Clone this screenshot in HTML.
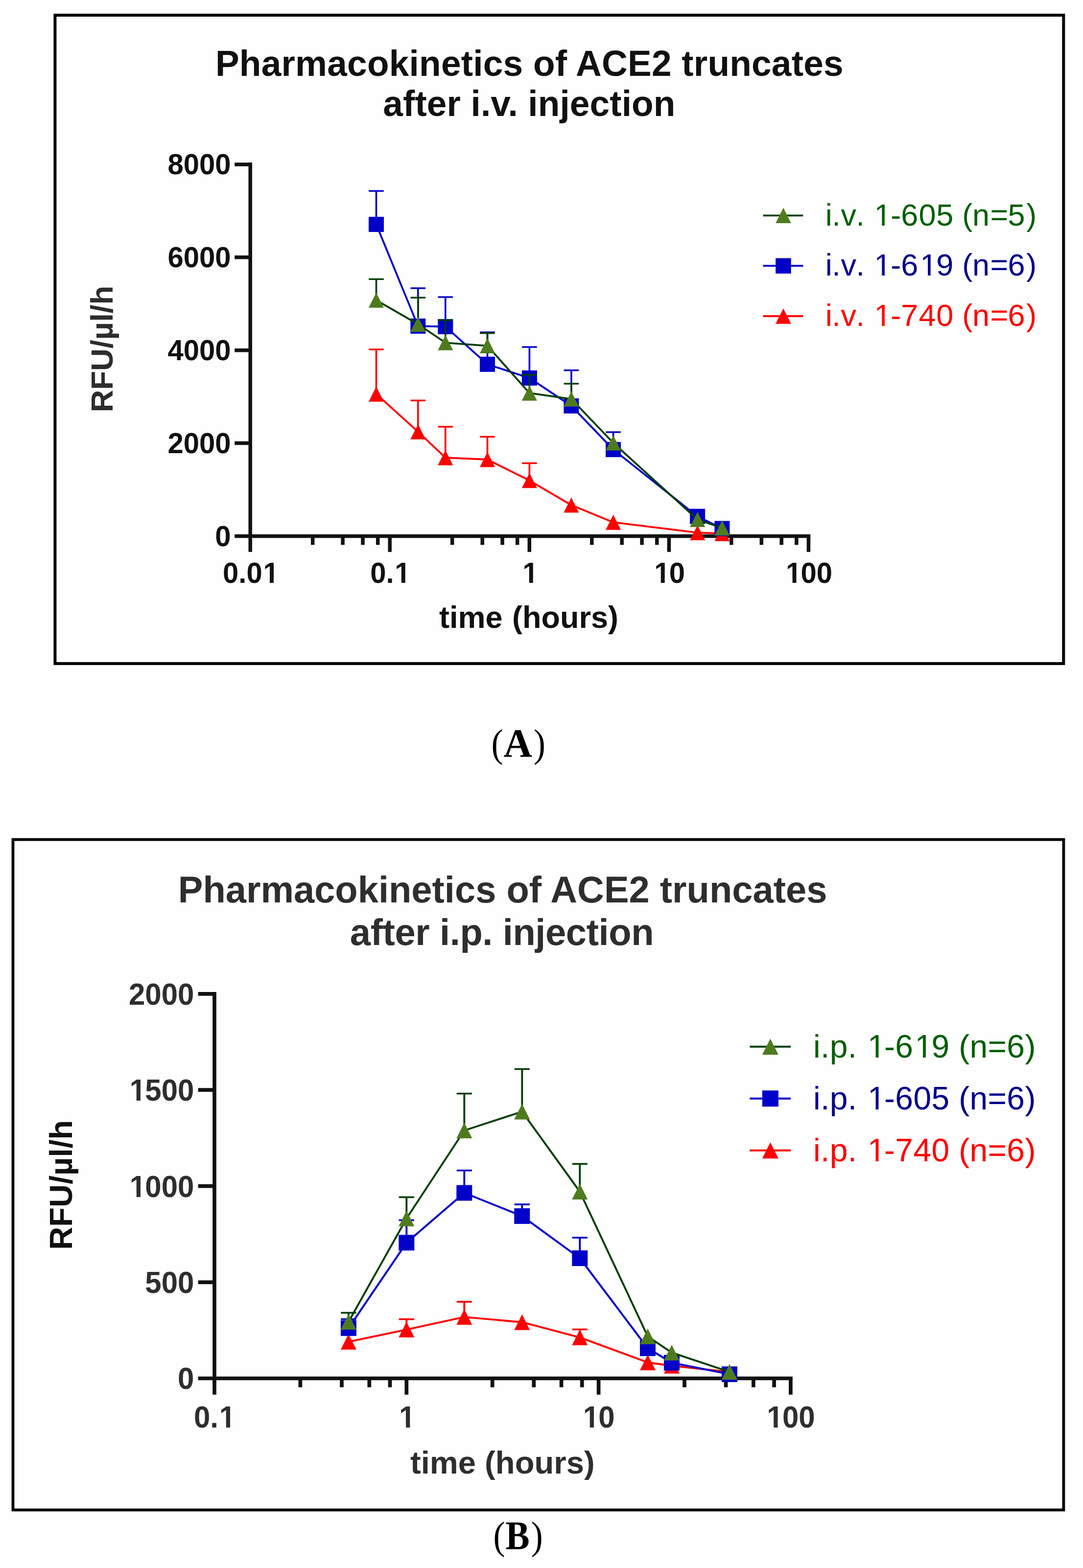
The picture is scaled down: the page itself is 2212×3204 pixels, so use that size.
<!DOCTYPE html>
<html lang="en">
<head>
<meta charset="utf-8">
<title>Pharmacokinetics of ACE2 truncates</title>
<style>
html,body{margin:0;padding:0;background:#fff;}
body{width:2212px;height:3204px;overflow:hidden;}
svg{display:block;}
text{font-family:"Liberation Sans",sans-serif;}
.b{font-weight:bold;}
.ser text{font-family:"Liberation Serif",serif;}
</style>
</head>
<body>
<svg width="2212" height="3204" viewBox="0 0 2212 3204">
<rect x="0" y="0" width="2212" height="3204" fill="#fefefe"/>

<g id="chartA">
<rect x="112.4" y="31" width="2059.9" height="1324.9" fill="none" stroke="#000" stroke-width="6"/>
<text id="t1" class="b" transform="translate(1081.4 154.8) scale(1 1.02)" font-size="73" letter-spacing="0.235" text-anchor="middle" fill="#111111">Pharmacokinetics of ACE2 truncates</text>
<text id="t2" class="b" transform="translate(1080.9 237) scale(1 1.02)" font-size="73" letter-spacing="0.12" text-anchor="middle" fill="#111111">after i.v. injection</text>
<line x1="511.2" y1="332.1" x2="511.2" y2="1127.8" stroke="#111111" stroke-width="7.5"/>
<line x1="479.2" y1="1095.4" x2="1655.2" y2="1095.4" stroke="#111111" stroke-width="7.5"/>
<line x1="479.2" y1="335.9" x2="511.2" y2="335.9" stroke="#111111" stroke-width="7.5"/>
<line x1="479.2" y1="525.8" x2="511.2" y2="525.8" stroke="#111111" stroke-width="7.5"/>
<line x1="479.2" y1="715.7" x2="511.2" y2="715.7" stroke="#111111" stroke-width="7.5"/>
<line x1="479.2" y1="905.5" x2="511.2" y2="905.5" stroke="#111111" stroke-width="7.5"/>
<line x1="638.7" y1="1095.4" x2="638.7" y2="1113.4" stroke="#111111" stroke-width="7.5"/>
<line x1="700.1" y1="1095.4" x2="700.1" y2="1113.4" stroke="#111111" stroke-width="7.5"/>
<line x1="741.0" y1="1095.4" x2="741.0" y2="1113.4" stroke="#111111" stroke-width="7.5"/>
<line x1="771.7" y1="1095.4" x2="771.7" y2="1113.4" stroke="#111111" stroke-width="7.5"/>
<line x1="796.2" y1="1095.4" x2="796.2" y2="1127.8" stroke="#111111" stroke-width="7.5"/>
<line x1="923.7" y1="1095.4" x2="923.7" y2="1113.4" stroke="#111111" stroke-width="7.5"/>
<line x1="985.2" y1="1095.4" x2="985.2" y2="1113.4" stroke="#111111" stroke-width="7.5"/>
<line x1="1026.1" y1="1095.4" x2="1026.1" y2="1113.4" stroke="#111111" stroke-width="7.5"/>
<line x1="1056.7" y1="1095.4" x2="1056.7" y2="1113.4" stroke="#111111" stroke-width="7.5"/>
<line x1="1081.3" y1="1095.4" x2="1081.3" y2="1127.8" stroke="#111111" stroke-width="7.5"/>
<line x1="1208.8" y1="1095.4" x2="1208.8" y2="1113.4" stroke="#111111" stroke-width="7.5"/>
<line x1="1270.2" y1="1095.4" x2="1270.2" y2="1113.4" stroke="#111111" stroke-width="7.5"/>
<line x1="1311.1" y1="1095.4" x2="1311.1" y2="1113.4" stroke="#111111" stroke-width="7.5"/>
<line x1="1341.8" y1="1095.4" x2="1341.8" y2="1113.4" stroke="#111111" stroke-width="7.5"/>
<line x1="1366.4" y1="1095.4" x2="1366.4" y2="1127.8" stroke="#111111" stroke-width="7.5"/>
<line x1="1493.8" y1="1095.4" x2="1493.8" y2="1113.4" stroke="#111111" stroke-width="7.5"/>
<line x1="1555.3" y1="1095.4" x2="1555.3" y2="1113.4" stroke="#111111" stroke-width="7.5"/>
<line x1="1596.2" y1="1095.4" x2="1596.2" y2="1113.4" stroke="#111111" stroke-width="7.5"/>
<line x1="1626.8" y1="1095.4" x2="1626.8" y2="1113.4" stroke="#111111" stroke-width="7.5"/>
<line x1="1651.4" y1="1095.4" x2="1651.4" y2="1127.8" stroke="#111111" stroke-width="7.5"/>
<text id="t3" class="b" transform="translate(0 356.2) scale(1 1.022)" x="471.5" y="0" font-size="58" text-anchor="end" fill="#111111">8000</text>
<text id="t4" class="b" transform="translate(0 546.1) scale(1 1.022)" x="471.5" y="0" font-size="58" text-anchor="end" fill="#111111">6000</text>
<text id="t5" class="b" transform="translate(0 736.0) scale(1 1.022)" x="471.5" y="0" font-size="58" text-anchor="end" fill="#111111">4000</text>
<text id="t6" class="b" transform="translate(0 925.8) scale(1 1.022)" x="471.5" y="0" font-size="58" text-anchor="end" fill="#111111">2000</text>
<text id="t7" class="b" transform="translate(0 1115.7) scale(1 1.022)" x="471.5" y="0" font-size="58" text-anchor="end" fill="#111111">0</text>
<text id="t8" class="b" transform="translate(0 1190.6) scale(1 1.022)" x="455.07 487.31 503.43 537.40" y="0" font-size="58" fill="#111111">0.01</text>
<text id="t9" class="b" transform="translate(0 1190.6) scale(1 1.022)" x="756.20 788.43 806.29" y="0" font-size="58" fill="#111111">0.1</text>
<text id="t10" class="b" transform="translate(0 1190.6) scale(1 1.022)" x="1067.21" y="0" font-size="58" fill="#111111">1</text>
<text id="t11" class="b" transform="translate(0 1190.6) scale(1 1.022)" x="1336.19 1366.68" y="0" font-size="58" fill="#111111">10</text>
<text id="t12" class="b" transform="translate(0 1190.6) scale(1 1.022)" x="1605.06 1635.56 1667.81" y="0" font-size="58" fill="#111111">100</text>
<text id="t13" class="b" x="1080" y="1282.6" font-size="63" word-spacing="2" text-anchor="middle" fill="#111111">time (hours)</text>
<text id="t14" class="b" transform="translate(230.2 713.2) rotate(-90)" font-size="63.5" text-anchor="middle" fill="#2d2d2d">RFU/µl/h</text>
<path d="M768.5 805.2V714.0" stroke="#ff0000" stroke-width="3.6" fill="none"/>
<path d="M753.2 714.0H783.8" stroke="#ff0000" stroke-width="3.4" fill="none"/>
<path d="M853.8 882.2V818.3" stroke="#ff0000" stroke-width="3.6" fill="none"/>
<path d="M838.5 818.3H869.1" stroke="#ff0000" stroke-width="3.4" fill="none"/>
<path d="M909.8 935.2V872.0" stroke="#ff0000" stroke-width="3.6" fill="none"/>
<path d="M894.5 872.0H925.1" stroke="#ff0000" stroke-width="3.4" fill="none"/>
<path d="M995.5 939.0V892.5" stroke="#ff0000" stroke-width="3.6" fill="none"/>
<path d="M980.2 892.5H1010.8" stroke="#ff0000" stroke-width="3.4" fill="none"/>
<path d="M1081.4 981.8V946.5" stroke="#ff0000" stroke-width="3.6" fill="none"/>
<path d="M1066.1 946.5H1096.7" stroke="#ff0000" stroke-width="3.4" fill="none"/>
<polyline points="768.5,805.2 853.8,882.2 909.8,935.2 995.5,939.0 1081.4,981.8 1166.9,1032.1 1252.6,1067.2 1424.6,1088.4 1474.9,1090.2" stroke="#ff0000" stroke-width="3.8" fill="none" stroke-linejoin="round"/>
<polygon points="753.0,820.7 784.0,820.7 768.5,789.7" fill="#ff0000"/>
<polygon points="838.3,897.7 869.3,897.7 853.8,866.7" fill="#ff0000"/>
<polygon points="894.3,950.7 925.3,950.7 909.8,919.7" fill="#ff0000"/>
<polygon points="980.0,954.5 1011.0,954.5 995.5,923.5" fill="#ff0000"/>
<polygon points="1065.9,997.3 1096.9,997.3 1081.4,966.3" fill="#ff0000"/>
<polygon points="1151.4,1047.6 1182.4,1047.6 1166.9,1016.6" fill="#ff0000"/>
<polygon points="1237.1,1082.7 1268.1,1082.7 1252.6,1051.7" fill="#ff0000"/>
<polygon points="1409.1,1103.9 1440.1,1103.9 1424.6,1072.9" fill="#ff0000"/>
<polygon points="1459.4,1105.7 1490.4,1105.7 1474.9,1074.7" fill="#ff0000"/>
<path d="M768.5 458.5V390.2" stroke="#0000c8" stroke-width="3.6" fill="none"/>
<path d="M753.2 390.2H783.8" stroke="#0000c8" stroke-width="3.4" fill="none"/>
<path d="M853.8 666.4V588.9" stroke="#0000c8" stroke-width="3.6" fill="none"/>
<path d="M838.5 588.9H869.1" stroke="#0000c8" stroke-width="3.4" fill="none"/>
<path d="M909.8 667.4V607.0" stroke="#0000c8" stroke-width="3.6" fill="none"/>
<path d="M894.5 607.0H925.1" stroke="#0000c8" stroke-width="3.4" fill="none"/>
<path d="M995.5 744.4V679.0" stroke="#0000c8" stroke-width="3.6" fill="none"/>
<path d="M980.2 679.0H1010.8" stroke="#0000c8" stroke-width="3.4" fill="none"/>
<path d="M1081.4 772.4V709.1" stroke="#0000c8" stroke-width="3.6" fill="none"/>
<path d="M1066.1 709.1H1096.7" stroke="#0000c8" stroke-width="3.4" fill="none"/>
<path d="M1166.9 829.4V756.6" stroke="#0000c8" stroke-width="3.6" fill="none"/>
<path d="M1151.6 756.6H1182.2" stroke="#0000c8" stroke-width="3.4" fill="none"/>
<path d="M1252.6 918.6V883.0" stroke="#0000c8" stroke-width="3.6" fill="none"/>
<path d="M1237.3 883.0H1267.9" stroke="#0000c8" stroke-width="3.4" fill="none"/>
<polyline points="768.5,458.5 853.8,666.4 909.8,667.4 995.5,744.4 1081.4,772.4 1166.9,829.4 1252.6,918.6 1424.6,1055.2 1474.9,1080.0" stroke="#0000c8" stroke-width="3.8" fill="none" stroke-linejoin="round"/>
<rect x="753.0" y="443.0" width="31.0" height="31.0" fill="#0000c8"/>
<rect x="838.3" y="650.9" width="31.0" height="31.0" fill="#0000c8"/>
<rect x="894.3" y="651.9" width="31.0" height="31.0" fill="#0000c8"/>
<rect x="980.0" y="728.9" width="31.0" height="31.0" fill="#0000c8"/>
<rect x="1065.9" y="756.9" width="31.0" height="31.0" fill="#0000c8"/>
<rect x="1151.4" y="813.9" width="31.0" height="31.0" fill="#0000c8"/>
<rect x="1237.1" y="903.1" width="31.0" height="31.0" fill="#0000c8"/>
<rect x="1409.1" y="1039.7" width="31.0" height="31.0" fill="#0000c8"/>
<rect x="1459.4" y="1064.5" width="31.0" height="31.0" fill="#0000c8"/>
<path d="M768.5 613.3V570.4" stroke="#003f00" stroke-width="3.6" fill="none"/>
<path d="M753.2 570.4H783.8" stroke="#003f00" stroke-width="3.4" fill="none"/>
<path d="M853.8 662.5V608.2" stroke="#003f00" stroke-width="3.6" fill="none"/>
<path d="M838.5 608.2H869.1" stroke="#003f00" stroke-width="3.4" fill="none"/>
<path d="M909.8 700.3V654.1" stroke="#003f00" stroke-width="3.6" fill="none"/>
<path d="M894.5 654.1H925.1" stroke="#003f00" stroke-width="3.4" fill="none"/>
<path d="M995.5 706.6V680.7" stroke="#003f00" stroke-width="3.6" fill="none"/>
<path d="M980.2 680.7H1010.8" stroke="#003f00" stroke-width="3.4" fill="none"/>
<path d="M1081.4 803.2V765.9" stroke="#003f00" stroke-width="3.6" fill="none"/>
<path d="M1066.1 765.9H1096.7" stroke="#003f00" stroke-width="3.4" fill="none"/>
<path d="M1166.9 815.3V784.0" stroke="#003f00" stroke-width="3.6" fill="none"/>
<path d="M1151.6 784.0H1182.2" stroke="#003f00" stroke-width="3.4" fill="none"/>
<polyline points="768.5,613.3 853.8,662.5 909.8,700.3 995.5,706.6 1081.4,803.2 1166.9,815.3 1252.6,905.0 1424.6,1061.6 1474.9,1078.8" stroke="#003f00" stroke-width="3.8" fill="none" stroke-linejoin="round"/>
<polygon points="753.0,628.8 784.0,628.8 768.5,597.8" fill="#4f7b1f"/>
<polygon points="838.3,678.0 869.3,678.0 853.8,647.0" fill="#4f7b1f"/>
<polygon points="894.3,715.8 925.3,715.8 909.8,684.8" fill="#4f7b1f"/>
<polygon points="980.0,722.1 1011.0,722.1 995.5,691.1" fill="#4f7b1f"/>
<polygon points="1065.9,818.7 1096.9,818.7 1081.4,787.7" fill="#4f7b1f"/>
<polygon points="1151.4,830.8 1182.4,830.8 1166.9,799.8" fill="#4f7b1f"/>
<polygon points="1237.1,920.5 1268.1,920.5 1252.6,889.5" fill="#4f7b1f"/>
<polygon points="1409.1,1077.1 1440.1,1077.1 1424.6,1046.1" fill="#4f7b1f"/>
<polygon points="1459.4,1094.3 1490.4,1094.3 1474.9,1063.3" fill="#4f7b1f"/>
<line x1="1558.6" y1="440.3" x2="1640.2" y2="440.3" stroke="#003f00" stroke-width="3.8"/>
<polygon points="1584.2,456.1 1615.8,456.1 1600.0,424.6" fill="#4f7b1f"/>
<text id="t15" x="1685.80 1699.19 1717.39 1748.42 1764.12 1785.46 1819.16 1840.13 1876.48 1912.22 1946.95 1965.16 1986.04 2022.58 2058.56 2096.30" y="461.0" font-size="63" fill="#005f00">i.v. 1-605 (n=5)</text>
<line x1="1558.6" y1="543.2" x2="1640.2" y2="543.2" stroke="#0000c8" stroke-width="3.8"/>
<rect x="1584.2" y="527.5" width="31.5" height="31.5" fill="#0000c8"/>
<text id="t16" x="1685.80 1699.19 1717.39 1748.42 1764.12 1785.46 1819.16 1840.13 1879.32 1912.22 1946.95 1965.16 1986.04 2022.58 2058.56 2096.30" y="563.4" font-size="63" fill="#00008b">i.v. 1-619 (n=6)</text>
<line x1="1558.6" y1="646" x2="1640.2" y2="646" stroke="#ff0000" stroke-width="3.8"/>
<polygon points="1584.2,661.8 1615.8,661.8 1600.0,630.2" fill="#ff0000"/>
<text id="t17" x="1685.80 1699.19 1717.39 1748.42 1764.12 1785.46 1819.16 1840.13 1876.48 1912.22 1946.95 1965.16 1986.04 2022.58 2058.56 2096.30" y="666.0" font-size="63" fill="#ff0000">i.v. 1-740 (n=6)</text>
</g>
<g class="ser" font-size="81" fill="#000"><text id="t18" transform="translate(1003.5 1546.1) scale(0.89 1)">(</text><text id="t19" transform="translate(1028.4 1546.1) scale(1 1.026)" font-weight="bold">A</text><text id="t20" transform="translate(1090.0 1546.1) scale(0.89 1)">)</text></g>
<g id="chartB">
<rect x="26.5" y="1715.5" width="2145.9" height="1369.9" fill="none" stroke="#000" stroke-width="5.8"/>
<text id="t21" class="b" transform="translate(1026.6 1843.9) scale(1 1.003)" font-size="75.9" text-anchor="middle" fill="#2e2e2e">Pharmacokinetics of ACE2 truncates</text>
<text id="t22" class="b" transform="translate(1025 1931) scale(1 1.003)" font-size="75.9" letter-spacing="-0.4" text-anchor="middle" fill="#2e2e2e">after i.p. injection</text>
<line x1="438.0" y1="2027.0" x2="438.0" y2="2849.8" stroke="#111111" stroke-width="7.7"/>
<line x1="404.6" y1="2816.5" x2="1618.8" y2="2816.5" stroke="#111111" stroke-width="7.7"/>
<line x1="404.6" y1="2030.8" x2="438.0" y2="2030.8" stroke="#111111" stroke-width="7.7"/>
<line x1="404.6" y1="2227.2" x2="438.0" y2="2227.2" stroke="#111111" stroke-width="7.7"/>
<line x1="404.6" y1="2423.7" x2="438.0" y2="2423.7" stroke="#111111" stroke-width="7.7"/>
<line x1="404.6" y1="2620.1" x2="438.0" y2="2620.1" stroke="#111111" stroke-width="7.7"/>
<line x1="613.4" y1="2816.5" x2="613.4" y2="2834.7" stroke="#111111" stroke-width="7.7"/>
<line x1="698.0" y1="2816.5" x2="698.0" y2="2834.7" stroke="#111111" stroke-width="7.7"/>
<line x1="754.3" y1="2816.5" x2="754.3" y2="2834.7" stroke="#111111" stroke-width="7.7"/>
<line x1="796.5" y1="2816.5" x2="796.5" y2="2834.7" stroke="#111111" stroke-width="7.7"/>
<line x1="830.3" y1="2816.5" x2="830.3" y2="2849.8" stroke="#111111" stroke-width="7.7"/>
<line x1="1005.7" y1="2816.5" x2="1005.7" y2="2834.7" stroke="#111111" stroke-width="7.7"/>
<line x1="1090.3" y1="2816.5" x2="1090.3" y2="2834.7" stroke="#111111" stroke-width="7.7"/>
<line x1="1146.6" y1="2816.5" x2="1146.6" y2="2834.7" stroke="#111111" stroke-width="7.7"/>
<line x1="1188.8" y1="2816.5" x2="1188.8" y2="2834.7" stroke="#111111" stroke-width="7.7"/>
<line x1="1222.6" y1="2816.5" x2="1222.6" y2="2849.8" stroke="#111111" stroke-width="7.7"/>
<line x1="1398.0" y1="2816.5" x2="1398.0" y2="2834.7" stroke="#111111" stroke-width="7.7"/>
<line x1="1482.6" y1="2816.5" x2="1482.6" y2="2834.7" stroke="#111111" stroke-width="7.7"/>
<line x1="1538.9" y1="2816.5" x2="1538.9" y2="2834.7" stroke="#111111" stroke-width="7.7"/>
<line x1="1581.1" y1="2816.5" x2="1581.1" y2="2834.7" stroke="#111111" stroke-width="7.7"/>
<line x1="1614.9" y1="2816.5" x2="1614.9" y2="2849.8" stroke="#111111" stroke-width="7.7"/>
<text id="t23" class="b" transform="translate(0 2052.7) scale(1 1.035)" x="396.4" y="0" font-size="60" text-anchor="end" fill="#2e2e2e">2000</text>
<text id="t24" class="b" transform="translate(0 2249.1) scale(1 1.035)" x="264.74 296.29 329.66 363.02" y="0" font-size="60" fill="#2e2e2e">1500</text>
<text id="t25" class="b" transform="translate(0 2445.6) scale(1 1.035)" x="264.74 296.29 329.66 363.02" y="0" font-size="60" fill="#2e2e2e">1000</text>
<text id="t26" class="b" transform="translate(0 2642.0) scale(1 1.035)" x="396.4" y="0" font-size="60" text-anchor="end" fill="#2e2e2e">500</text>
<text id="t27" class="b" transform="translate(0 2838.4) scale(1 1.035)" x="396.4" y="0" font-size="60" text-anchor="end" fill="#2e2e2e">0</text>
<text id="t28" class="b" transform="translate(0 2916.5) scale(1 1.035)" x="396.00 429.35 447.82" y="0" font-size="60" fill="#2e2e2e">0.1</text>
<text id="t29" class="b" transform="translate(0 2916.5) scale(1 1.035)" x="815.12" y="0" font-size="60" fill="#2e2e2e">1</text>
<text id="t30" class="b" transform="translate(0 2916.5) scale(1 1.035)" x="1190.74 1222.28" y="0" font-size="60" fill="#2e2e2e">10</text>
<text id="t31" class="b" transform="translate(0 2916.5) scale(1 1.035)" x="1566.35 1597.90 1631.27" y="0" font-size="60" fill="#2e2e2e">100</text>
<text id="t32" class="b" x="1026.3" y="3011.2" font-size="65.2" text-anchor="middle" fill="#2e2e2e">time (hours)</text>
<text id="t33" class="b" transform="translate(146.8 2421.2) rotate(-90)" font-size="65" text-anchor="middle" fill="#111111">RFU/µl/h</text>
<path d="M830.3 2716.8V2695.6" stroke="#ff0000" stroke-width="3.9" fill="none"/>
<path d="M814.7 2695.6H845.9" stroke="#ff0000" stroke-width="3.6" fill="none"/>
<path d="M948.3 2691.1V2660.1" stroke="#ff0000" stroke-width="3.9" fill="none"/>
<path d="M932.7 2660.1H963.9" stroke="#ff0000" stroke-width="3.6" fill="none"/>
<path d="M1184.3 2732.8V2716.5" stroke="#ff0000" stroke-width="3.9" fill="none"/>
<path d="M1168.7 2716.5H1199.9" stroke="#ff0000" stroke-width="3.6" fill="none"/>
<polyline points="711.9,2741.8 830.3,2716.8 948.3,2691.1 1066.3,2701.7 1184.3,2732.8 1323.0,2784.0 1372.0,2790.7 1490.0,2803.5" stroke="#ff0000" stroke-width="3.9" fill="none" stroke-linejoin="round"/>
<polygon points="695.9,2757.8 727.9,2757.8 711.9,2725.8" fill="#ff0000"/>
<polygon points="814.3,2732.8 846.3,2732.8 830.3,2700.8" fill="#ff0000"/>
<polygon points="932.3,2707.1 964.3,2707.1 948.3,2675.1" fill="#ff0000"/>
<polygon points="1050.3,2717.7 1082.3,2717.7 1066.3,2685.7" fill="#ff0000"/>
<polygon points="1168.3,2748.8 1200.3,2748.8 1184.3,2716.8" fill="#ff0000"/>
<polygon points="1307.0,2800.0 1339.0,2800.0 1323.0,2768.0" fill="#ff0000"/>
<polygon points="1356.0,2806.7 1388.0,2806.7 1372.0,2774.7" fill="#ff0000"/>
<polygon points="1474.0,2819.5 1506.0,2819.5 1490.0,2787.5" fill="#ff0000"/>
<path d="M711.9 2713.8V2695.5" stroke="#0000c8" stroke-width="3.9" fill="none"/>
<path d="M696.3 2695.5H727.5" stroke="#0000c8" stroke-width="3.6" fill="none"/>
<path d="M830.3 2539.3V2493.3" stroke="#0000c8" stroke-width="3.9" fill="none"/>
<path d="M814.7 2493.3H845.9" stroke="#0000c8" stroke-width="3.6" fill="none"/>
<path d="M948.3 2437.5V2391.7" stroke="#0000c8" stroke-width="3.9" fill="none"/>
<path d="M932.7 2391.7H963.9" stroke="#0000c8" stroke-width="3.6" fill="none"/>
<path d="M1066.3 2484.9V2461.0" stroke="#0000c8" stroke-width="3.9" fill="none"/>
<path d="M1050.7 2461.0H1081.9" stroke="#0000c8" stroke-width="3.6" fill="none"/>
<path d="M1184.3 2571.0V2529.0" stroke="#0000c8" stroke-width="3.9" fill="none"/>
<path d="M1168.7 2529.0H1199.9" stroke="#0000c8" stroke-width="3.6" fill="none"/>
<polyline points="711.9,2713.8 830.3,2539.3 948.3,2437.5 1066.3,2484.9 1184.3,2571.0 1323.0,2755.0 1372.0,2784.5 1490.0,2808.1" stroke="#0000c8" stroke-width="3.9" fill="none" stroke-linejoin="round"/>
<rect x="695.9" y="2697.8" width="32.0" height="32.0" fill="#0000c8"/>
<rect x="814.3" y="2523.3" width="32.0" height="32.0" fill="#0000c8"/>
<rect x="932.3" y="2421.5" width="32.0" height="32.0" fill="#0000c8"/>
<rect x="1050.3" y="2468.9" width="32.0" height="32.0" fill="#0000c8"/>
<rect x="1168.3" y="2555.0" width="32.0" height="32.0" fill="#0000c8"/>
<rect x="1307.0" y="2739.0" width="32.0" height="32.0" fill="#0000c8"/>
<rect x="1356.0" y="2768.5" width="32.0" height="32.0" fill="#0000c8"/>
<rect x="1474.0" y="2792.1" width="32.0" height="32.0" fill="#0000c8"/>
<path d="M711.9 2701.0V2682.5" stroke="#003f00" stroke-width="3.9" fill="none"/>
<path d="M696.3 2682.5H727.5" stroke="#003f00" stroke-width="3.6" fill="none"/>
<path d="M830.3 2489.8V2446.3" stroke="#003f00" stroke-width="3.9" fill="none"/>
<path d="M814.7 2446.3H845.9" stroke="#003f00" stroke-width="3.6" fill="none"/>
<path d="M948.3 2310.0V2234.6" stroke="#003f00" stroke-width="3.9" fill="none"/>
<path d="M932.7 2234.6H963.9" stroke="#003f00" stroke-width="3.6" fill="none"/>
<path d="M1066.3 2271.5V2184.5" stroke="#003f00" stroke-width="3.9" fill="none"/>
<path d="M1050.7 2184.5H1081.9" stroke="#003f00" stroke-width="3.6" fill="none"/>
<path d="M1184.3 2435.0V2378.3" stroke="#003f00" stroke-width="3.9" fill="none"/>
<path d="M1168.7 2378.3H1199.9" stroke="#003f00" stroke-width="3.6" fill="none"/>
<polyline points="711.9,2701.0 830.3,2489.8 948.3,2310.0 1066.3,2271.5 1184.3,2435.0 1323.0,2730.8 1372.0,2763.9 1490.0,2803.2" stroke="#003f00" stroke-width="3.9" fill="none" stroke-linejoin="round"/>
<polygon points="695.9,2717.0 727.9,2717.0 711.9,2685.0" fill="#4f7b1f"/>
<polygon points="814.3,2505.8 846.3,2505.8 830.3,2473.8" fill="#4f7b1f"/>
<polygon points="932.3,2326.0 964.3,2326.0 948.3,2294.0" fill="#4f7b1f"/>
<polygon points="1050.3,2287.5 1082.3,2287.5 1066.3,2255.5" fill="#4f7b1f"/>
<polygon points="1168.3,2451.0 1200.3,2451.0 1184.3,2419.0" fill="#4f7b1f"/>
<polygon points="1307.0,2746.8 1339.0,2746.8 1323.0,2714.8" fill="#4f7b1f"/>
<polygon points="1356.0,2779.9 1388.0,2779.9 1372.0,2747.9" fill="#4f7b1f"/>
<polygon points="1474.0,2819.2 1506.0,2819.2 1490.0,2787.2" fill="#4f7b1f"/>
<line x1="1531.4" y1="2138.8" x2="1615" y2="2138.8" stroke="#003f00" stroke-width="3.9"/>
<polygon points="1556.9,2155.3 1589.9,2155.3 1573.4,2122.3" fill="#4f7b1f"/>
<text id="t34" x="1661.00 1675.98 1694.66 1731.69 1750.36 1771.99 1806.06 1828.36 1868.38 1902.44 1939.47 1958.14 1980.45 2017.48 2056.36 2093.39" y="2161.3" font-size="66" fill="#005f00">i.p. 1-619 (n=6)</text>
<line x1="1531.4" y1="2244.7" x2="1615" y2="2244.7" stroke="#0000c8" stroke-width="3.9"/>
<rect x="1556.9" y="2228.2" width="33.0" height="33.0" fill="#0000c8"/>
<text id="t35" x="1661.00 1675.98 1694.66 1731.69 1750.36 1771.99 1806.06 1828.36 1865.41 1902.44 1939.47 1958.14 1980.45 2017.48 2056.36 2093.39" y="2266.9" font-size="66" fill="#00008b">i.p. 1-605 (n=6)</text>
<line x1="1531.4" y1="2350.8" x2="1615" y2="2350.8" stroke="#ff0000" stroke-width="3.9"/>
<polygon points="1556.9,2367.3 1589.9,2367.3 1573.4,2334.3" fill="#ff0000"/>
<text id="t36" x="1661.00 1675.98 1694.66 1731.69 1750.36 1771.99 1806.06 1828.36 1865.41 1902.44 1939.47 1958.14 1980.45 2017.48 2056.36 2093.39" y="2373.0" font-size="66" fill="#ff0000">i.p. 1-740 (n=6)</text>
</g>
<g class="ser" font-size="81" fill="#000"><text id="t37" transform="translate(1007.4 3164.9) scale(0.89 1)">(</text><text id="t38" transform="translate(1032.5 3164.9) scale(0.91 1.023)" font-weight="bold">B</text><text id="t39" transform="translate(1084.7 3164.9) scale(0.89 1)">)</text></g>
<g id="glyph-trim">
<rect transform="translate(0 1190.6) scale(1 1.022)" x="539.56" y="-7.12" width="11.38" height="8.32" fill="#fefefe"/>
<rect transform="translate(0 1190.6) scale(1 1.022)" x="558.90" y="-7.12" width="10.65" height="8.32" fill="#fefefe"/>
<rect transform="translate(0 1190.6) scale(1 1.022)" x="808.44" y="-7.12" width="11.38" height="8.32" fill="#fefefe"/>
<rect transform="translate(0 1190.6) scale(1 1.022)" x="827.79" y="-7.12" width="10.65" height="8.32" fill="#fefefe"/>
<rect transform="translate(0 1190.6) scale(1 1.022)" x="1069.37" y="-7.12" width="11.38" height="8.32" fill="#fefefe"/>
<rect transform="translate(0 1190.6) scale(1 1.022)" x="1088.71" y="-7.12" width="10.65" height="8.32" fill="#fefefe"/>
<rect transform="translate(0 1190.6) scale(1 1.022)" x="1338.34" y="-7.12" width="11.38" height="8.32" fill="#fefefe"/>
<rect transform="translate(0 1190.6) scale(1 1.022)" x="1357.68" y="-7.12" width="10.65" height="8.32" fill="#fefefe"/>
<rect transform="translate(0 1190.6) scale(1 1.022)" x="1607.21" y="-7.12" width="11.38" height="8.32" fill="#fefefe"/>
<rect transform="translate(0 1190.6) scale(1 1.022)" x="1626.56" y="-7.12" width="10.65" height="8.32" fill="#fefefe"/>
<rect x="1788.76" y="455.09" width="12.54" height="7.11" fill="#fefefe"/>
<rect x="1806.87" y="455.09" width="12.05" height="7.11" fill="#fefefe"/>
<rect x="1788.76" y="557.49" width="12.54" height="7.11" fill="#fefefe"/>
<rect x="1806.87" y="557.49" width="12.05" height="7.11" fill="#fefefe"/>
<rect x="1882.62" y="557.49" width="12.54" height="7.11" fill="#fefefe"/>
<rect x="1900.73" y="557.49" width="12.05" height="7.11" fill="#fefefe"/>
<rect x="1788.76" y="660.09" width="12.54" height="7.11" fill="#fefefe"/>
<rect x="1806.87" y="660.09" width="12.05" height="7.11" fill="#fefefe"/>
<rect transform="translate(0 2249.1) scale(1 1.035)" x="267.02" y="-7.32" width="11.72" height="8.52" fill="#fefefe"/>
<rect transform="translate(0 2249.1) scale(1 1.035)" x="286.98" y="-7.32" width="10.96" height="8.52" fill="#fefefe"/>
<rect transform="translate(0 2445.6) scale(1 1.035)" x="267.02" y="-7.32" width="11.72" height="8.52" fill="#fefefe"/>
<rect transform="translate(0 2445.6) scale(1 1.035)" x="286.98" y="-7.32" width="10.96" height="8.52" fill="#fefefe"/>
<rect transform="translate(0 2916.5) scale(1 1.035)" x="450.10" y="-7.32" width="11.72" height="8.52" fill="#fefefe"/>
<rect transform="translate(0 2916.5) scale(1 1.035)" x="470.06" y="-7.32" width="10.96" height="8.52" fill="#fefefe"/>
<rect transform="translate(0 2916.5) scale(1 1.035)" x="817.40" y="-7.32" width="11.72" height="8.52" fill="#fefefe"/>
<rect transform="translate(0 2916.5) scale(1 1.035)" x="837.35" y="-7.32" width="10.96" height="8.52" fill="#fefefe"/>
<rect transform="translate(0 2916.5) scale(1 1.035)" x="1193.02" y="-7.32" width="11.72" height="8.52" fill="#fefefe"/>
<rect transform="translate(0 2916.5) scale(1 1.035)" x="1212.97" y="-7.32" width="10.96" height="8.52" fill="#fefefe"/>
<rect transform="translate(0 2916.5) scale(1 1.035)" x="1568.63" y="-7.32" width="11.72" height="8.52" fill="#fefefe"/>
<rect transform="translate(0 2916.5) scale(1 1.035)" x="1588.59" y="-7.32" width="10.96" height="8.52" fill="#fefefe"/>
<rect x="1775.51" y="2155.17" width="13.07" height="7.33" fill="#fefefe"/>
<rect x="1794.42" y="2155.17" width="12.55" height="7.33" fill="#fefefe"/>
<rect x="1871.90" y="2155.17" width="13.07" height="7.33" fill="#fefefe"/>
<rect x="1890.81" y="2155.17" width="12.55" height="7.33" fill="#fefefe"/>
<rect x="1775.51" y="2260.77" width="13.07" height="7.33" fill="#fefefe"/>
<rect x="1794.42" y="2260.77" width="12.55" height="7.33" fill="#fefefe"/>
<rect x="1775.51" y="2366.87" width="13.07" height="7.33" fill="#fefefe"/>
<rect x="1794.42" y="2366.87" width="12.55" height="7.33" fill="#fefefe"/>
</g>
</svg>
</body>
</html>
